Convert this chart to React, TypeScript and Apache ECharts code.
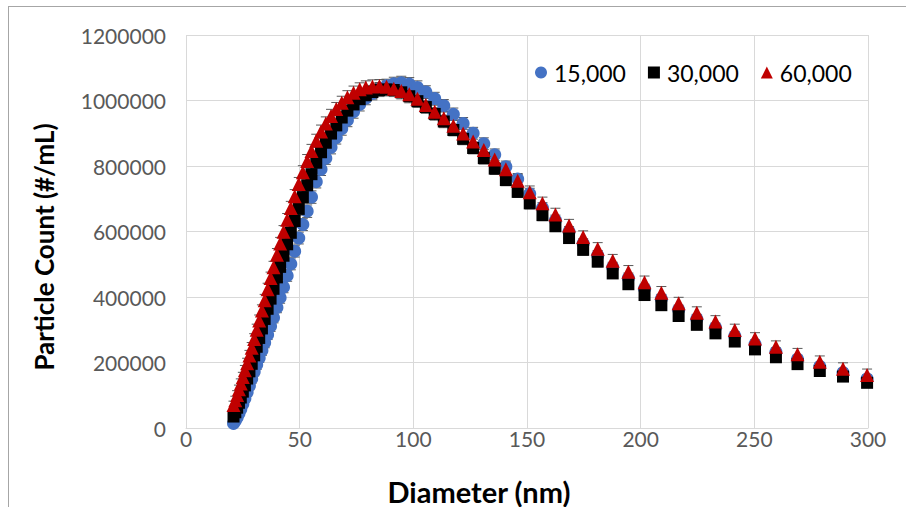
import React, { useEffect, useRef } from "react";
import * as echarts from "echarts";

// Diameter bins (nm)
const DIAMETER = [
  20.9, 21.7, 22.5, 23.3, 24.1, 25.0, 25.9, 26.9, 27.9, 28.9,
  30.0, 31.1, 32.2, 33.4, 34.6, 35.9, 37.2, 38.5, 40.0, 41.4,
  42.9, 44.5, 46.1, 47.8, 49.6, 51.4, 53.3, 55.2, 57.3, 59.4,
  61.5, 63.8, 66.1, 68.5, 71.0, 73.7, 76.4, 79.1, 82.0, 85.1,
  88.2, 91.4, 94.7, 98.2, 101.8, 105.5, 109.4, 113.4, 117.6, 121.9,
  126.3, 131.0, 135.8, 140.7, 145.9, 151.2, 156.8, 162.5, 168.5, 174.7,
  181.1, 187.7, 194.6, 201.7, 209.1, 216.7, 224.7, 232.9, 241.4, 250.3,
  259.5, 269.0, 278.8, 289.0, 299.6,
];

// Particle counts (#/mL), in thousands
const COUNT_15K = [
  14, 22, 32, 44, 57, 73, 90, 109, 129, 150,
  172, 193, 214, 237, 260, 285, 311, 337, 368, 398,
  430, 465, 501, 540, 580, 621, 662, 705, 752, 790,
  824, 857, 887, 914, 940, 966, 988, 1007, 1022, 1035,
  1045, 1051, 1054, 1050, 1040, 1026, 1006, 984, 958, 930,
  900, 868, 834, 798, 760, 715, 672, 634, 599, 563,
  527, 491, 458, 425, 394, 361, 333, 307, 281, 256,
  232, 210, 188, 169, 150,
];
const COUNT_30K = [
  35, 48, 62, 77, 93, 111, 130, 151, 173, 196,
  222, 248, 275, 304, 333, 364, 395, 425, 460, 492,
  526, 561, 596, 632, 669, 705, 741, 775, 810, 842,
  871, 899, 924, 948, 969, 988, 1004, 1016, 1026, 1032,
  1034, 1032, 1025, 1013, 998, 980, 959, 936, 910, 883,
  855, 824, 792, 757, 721, 686, 650, 616, 580, 544,
  508, 472, 439, 406, 375, 342, 315, 289, 264, 240,
  216, 195, 174, 157, 138,
];
const COUNT_60K = [
  70, 85, 101, 118, 136, 156, 176, 198, 221, 245,
  272, 300, 328, 359, 390, 424, 458, 491, 529, 563,
  599, 636, 672, 708, 745, 781, 815, 846, 877, 905,
  930, 953, 974, 993, 1010, 1024, 1034, 1040, 1043, 1044,
  1042, 1036, 1029, 1019, 1005, 986, 966, 946, 923, 899,
  875, 849, 820, 790, 755, 720, 686, 652, 618, 583,
  547, 511, 477, 445, 413, 381, 352, 325, 299, 273,
  248, 225, 202, 181, 162,
];

// Error bar half-widths (#/mL), in thousands
const ERR_15K = [
  8, 9, 9, 10, 10, 11, 11, 12, 12, 13,
  13, 14, 14, 15, 15, 15, 16, 16, 16, 17,
  17, 17, 18, 18, 18, 18, 19, 19, 19, 19,
  19, 20, 20, 20, 20, 20, 20, 20, 20, 20,
  20, 20, 20, 20, 20, 19, 19, 19, 19, 18,
  18, 18, 18, 17, 17, 17, 16, 16, 16, 15,
  15, 15, 15, 14, 14, 14, 14, 13, 13, 13,
  13, 12, 12, 12, 12,
];
const ERR_30K = [
  10, 10, 11, 11, 12, 12, 13, 13, 14, 14,
  15, 15, 16, 16, 16, 17, 17, 17, 18, 18,
  18, 18, 19, 19, 19, 19, 19, 20, 20, 20,
  20, 20, 20, 20, 20, 20, 20, 20, 20, 20,
  20, 20, 20, 20, 19, 19, 19, 19, 18, 18,
  18, 18, 18, 17, 17, 17, 17, 16, 16, 16,
  16, 15, 15, 15, 15, 14, 14, 14, 14, 13,
  13, 13, 13, 12, 12,
];
const ERR_60K = [
  12, 12, 13, 13, 14, 14, 15, 15, 16, 16,
  16, 17, 17, 17, 18, 18, 18, 18, 19, 19,
  19, 19, 20, 20, 20, 20, 20, 20, 20, 20,
  20, 20, 20, 20, 20, 20, 20, 20, 20, 20,
  20, 20, 20, 20, 20, 20, 20, 20, 20, 20,
  20, 20, 20, 19, 19, 19, 19, 19, 19, 19,
  19, 19, 19, 19, 19, 18, 18, 18, 18, 18,
  18, 18, 18, 18, 18,
];

const SERIES_NAMES = ["15,000", "30,000", "60,000"];
const X_TICKS = { min: 0, max: 300, interval: 50 };
const Y_TICKS = { min: 0, max: 1200000, interval: 200000 };

const FONT = "Lato, 'Liberation Sans', sans-serif";

function pts(values: number[]) {
  return DIAMETER.map((d, i) => [d, values[i] * 1000]);
}
function errPts(values: number[], errs: number[]) {
  return DIAMETER.map((d, i) => [d, values[i] * 1000, (errs[i] ?? 0) * 1000]);
}

const errRender = (params: any, api: any) => {
  const x = api.value(0);
  const y = api.value(1);
  const e = api.value(2);
  const top = api.coord([x, y + e]);
  const bot = api.coord([x, y - e]);
  const w = 5;
  const style = { stroke: "#595959", lineWidth: 1 };
  return {
    type: "group",
    children: [
      { type: "line", shape: { x1: top[0], y1: top[1], x2: bot[0], y2: bot[1] }, style },
      { type: "line", shape: { x1: top[0] - w, y1: top[1], x2: top[0] + w, y2: top[1] }, style },
      { type: "line", shape: { x1: bot[0] - w, y1: bot[1], x2: bot[0] + w, y2: bot[1] }, style },
    ],
  };
};

export default function App() {
  const ref = useRef<HTMLDivElement>(null);
  useEffect(() => {
    document.body.style.margin = "0";
    const chart = echarts.init(ref.current!, null, { renderer: "svg" });
    const colors = ["#4472C4", "#000000", "#C00000"];
    const symbols = ["circle", "rect", "triangle"];
    const sizes = [13, 12, 14];
    const counts = [COUNT_15K, COUNT_30K, COUNT_60K];
    const errs = [ERR_15K, ERR_30K, ERR_60K];
    const errSeries = counts.map((c, i) => ({
      type: "custom",
      name: "err" + i,
      renderItem: errRender,
      data: errPts(c, errs[i]),
      encode: { x: 0, y: 1 },
      z: 1,
      silent: true,
    }));
    const scatterSeries = counts.map((c, i) => ({
      type: "scatter",
      name: SERIES_NAMES[i],
      data: pts(c),
      symbol: symbols[i],
      symbolSize: sizes[i],
      itemStyle: { color: colors[i], opacity: 1 },
      z: 2,
    }));
    chart.setOption({
      animation: false,
      backgroundColor: "#ffffff",
      grid: { left: 186, right: 38, top: 35, bottom: 79, containLabel: false },
      legend: {
        data: SERIES_NAMES.map((n, i) => ({ name: n, icon: symbols[i] })),
        left: 530,
        top: 56,
        itemWidth: 12,
        itemHeight: 12,
        itemGap: 22,
        textStyle: { fontFamily: FONT, fontSize: 23, color: "#000000", padding: [0, 0, 0, 2] },
      },
      xAxis: {
        type: "value",
        min: X_TICKS.min,
        max: X_TICKS.max,
        interval: X_TICKS.interval,
        axisLine: { show: true, lineStyle: { color: "#d9d9d9", width: 1 } },
        axisTick: { show: false },
        splitLine: { show: true, lineStyle: { color: "#d9d9d9", width: 1 } },
        axisLabel: { fontFamily: FONT, fontSize: 21, color: "#595959", margin: 0 },
      },
      yAxis: {
        type: "value",
        min: Y_TICKS.min,
        max: Y_TICKS.max,
        interval: Y_TICKS.interval,
        axisLine: { show: false },
        axisTick: { show: false },
        splitLine: { show: true, lineStyle: { color: "#d9d9d9", width: 1 } },
        axisLabel: {
          fontFamily: FONT,
          fontSize: 21,
          color: "#595959",
          margin: 20,
          formatter: (v: number) => String(v),
        },
      },
      graphic: [
        { type: "line", shape: { x1: 8.5, y1: 6, x2: 8.5, y2: 507 }, style: { stroke: "#a6a6a6", lineWidth: 1 } },
        { type: "line", shape: { x1: 8, y1: 6.5, x2: 906, y2: 6.5 }, style: { stroke: "#a6a6a6", lineWidth: 1 } },
        {
          type: "text",
          x: 479,
          y: 491,
          style: {
            text: "Diameter (nm)",
            fontFamily: FONT,
            fontSize: 29,
            fontWeight: "bold",
            fill: "#000000",
            align: "center",
            verticalAlign: "middle",
          },
        },
        {
          type: "text",
          x: 44,
          y: 247,
          rotation: Math.PI / 2,
          style: {
            text: "Particle Count (#/mL)",
            fontFamily: FONT,
            fontSize: 26,
            fontWeight: "bold",
            fill: "#000000",
            align: "center",
            verticalAlign: "middle",
          },
        },
      ],
      series: [...errSeries, ...scatterSeries],
    });
    return () => chart.dispose();
  }, []);
  return <div ref={ref} style={{ width: 906, height: 507 }} />;
}
